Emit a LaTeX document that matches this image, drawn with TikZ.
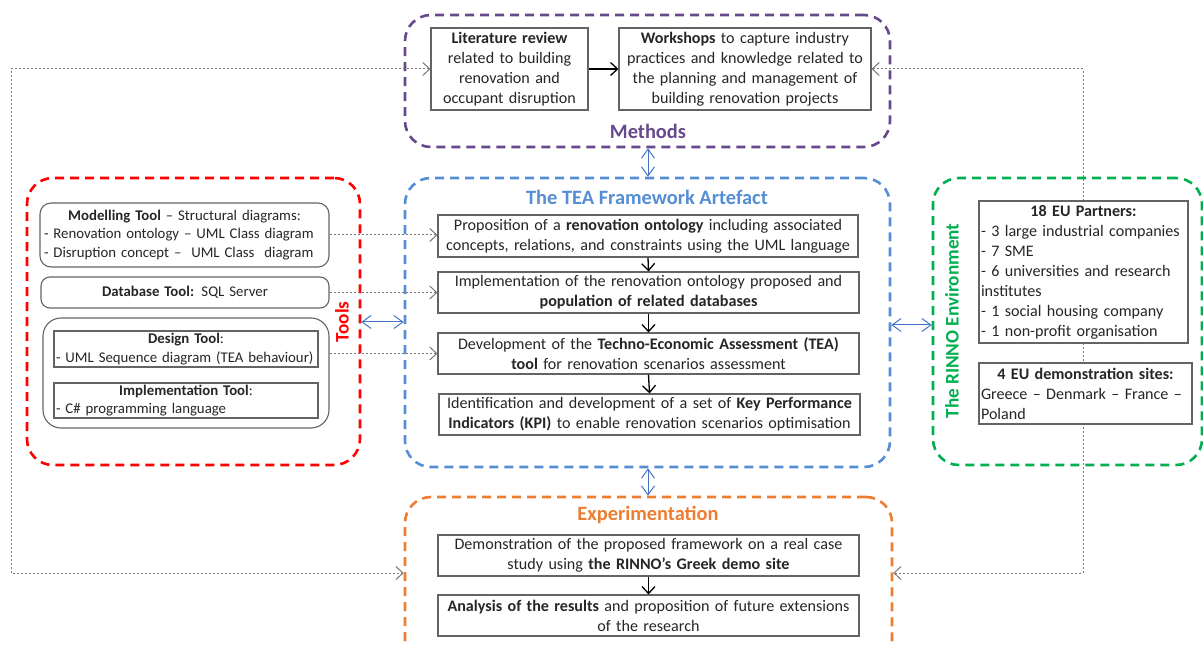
\documentclass[tikz,border=0pt]{standalone}
\usepackage{fontspec}
\setmainfont{Carlito}
\usetikzlibrary{arrows.meta}
\definecolor{mpurple}{RGB}{102,72,140}
\definecolor{mblue}{RGB}{85,142,213}
\definecolor{mred}{RGB}{255,0,0}
\definecolor{mgreen}{RGB}{0,176,80}
\definecolor{morange}{RGB}{237,125,49}
\definecolor{lblue}{RGB}{68,114,196}
\definecolor{tgray}{RGB}{38,38,38}
\definecolor{bgray}{RGB}{100,100,100}
\definecolor{dgray}{RGB}{120,120,120}
\tikzset{
  grp/.style={line width=2.6pt, dash pattern=on 9pt off 6pt, rounded corners=26pt, inner sep=0pt},
  box/.style={draw=bgray, line width=1.1pt, fill=white, inner sep=0pt, align=center, text=tgray,
              font=\fontsize{16.1}{20}\selectfont},
  rbox/.style={box, rounded corners=11pt},
  tbox/.style={box, font=\fontsize{14.8}{18.5}\selectfont},
  flow/.style={black, line width=1.3pt, -{Straight Barb[length=7pt,width=13pt,line width=1.3pt]}},
  link/.style={lblue, line width=1pt, {Straight Barb[length=9pt,width=13pt]}-{Straight Barb[length=9pt,width=13pt]}},
  dots/.style={dgray, line width=1pt, dash pattern=on 2pt off 2pt},
  dtip/.style={-{Straight Barb[length=7pt,width=13pt,line width=1pt]}},
  ttl/.style={font=\fontsize{20.4}{22}\selectfont\bfseries, inner sep=0pt},
  rttl/.style={font=\fontsize{19.2}{22}\selectfont\bfseries, inner sep=0pt, rotate=90},
}
\begin{document}
\begin{tikzpicture}[x=1pt,y=-1pt]
\useasboundingbox (0,0) rectangle (1203,647);
\clip (0,0) rectangle (1203,647);
\fill[white] (0,0) rectangle (1203,647);

% group frames
\node[grp, draw=mpurple, minimum width=485pt, minimum height=132pt] (methods) at (647.5,81) {};
\node[grp, draw=mblue, minimum width=485pt, minimum height=289pt] (tea) at (647.5,322.5) {};
\node[grp, draw=morange, minimum width=487pt, minimum height=170pt] (exp) at (648.5,582) {};
\node[grp, draw=mred, minimum width=333pt, minimum height=287pt] (tools) at (193.5,321.5) {};

% titles
\node[ttl, text=mpurple] (tmeth) at (648,131) {Methods};
\node[ttl, text=mblue] (ttea) at (647,197) {The TEA Framework Artefact};
\node[ttl, text=morange] (texp) at (648,515) {Experimentation};
\node[rttl, text=mred] (ttools) at (342,322) {Tools};
\node[rttl, text=mgreen] (trinno) at (952,321) {The RINNO Environment};

% methods boxes
\node[box, minimum width=157pt, minimum height=82pt, text width=155pt] (lit) at (509.5,69)
  {\textbf{Literature review}\\related to building\\renovation and\\occupant disruption};
\node[box, minimum width=252pt, minimum height=82pt, text width=250pt] (work) at (745,69)
  {\textbf{Workshops} to capture industry\\practices and knowledge related to\\the planning and management of\\building renovation projects};

% TEA boxes
\node[box, minimum width=420pt, minimum height=42pt, text width=418pt] (b1) at (648,236)
  {Proposition of a \textbf{renovation ontology} including associated\\concepts, relations, and constraints using the UML language};
\node[box, minimum width=421pt, minimum height=41pt, text width=419pt] (b2) at (648.5,292.5)
  {Implementation of the renovation ontology proposed and\\\textbf{population of related databases}};
\node[box, minimum width=421pt, minimum height=41pt, text width=419pt] (b3) at (648.5,353.5)
  {Development of the \textbf{Techno-Economic Assessment (TEA)}\\\textbf{tool} for renovation scenarios assessment};
\node[box, minimum width=421pt, minimum height=41pt, text width=419pt] (b4) at (649.5,414.5)
  {Identification and development of a set of \textbf{Key Performance}\\\textbf{Indicators (KPI)} to enable renovation scenarios optimisation};

% experimentation boxes
\node[box, minimum width=421pt, minimum height=41pt, text width=419pt] (e1) at (648.5,555.5)
  {Demonstration of the proposed framework on a real case\\study using \textbf{the RINNO’s Greek demo site}};
\node[box, minimum width=421pt, minimum height=41pt, text width=419pt] (e2) at (648.5,615.5)
  {\textbf{Analysis of the results} and proposition of future extensions\\of the research};

% tools boxes
\node[rbox, tbox, rounded corners=11pt, minimum width=289pt, minimum height=64pt, text width=281pt, align=left] (mod) at (184.5,235)
  {\makebox[\linewidth]{\textbf{Modelling Tool} – Structural diagrams:}\\- Renovation ontology – UML Class diagram\\- Disruption concept –\ \ UML Class\ \ diagram};
\node[rbox, tbox, rounded corners=9pt, minimum width=288pt, minimum height=31pt, text width=282pt] (db) at (185,292.5)
  {\textbf{Database Tool:} SQL Server};
\node[rbox, tbox, rounded corners=18pt, minimum width=286pt, minimum height=110pt] (outer) at (186,373) {};
\node[tbox, minimum width=264pt, minimum height=36pt, text width=260pt, align=left] (design) at (186,349)
  {\makebox[\linewidth]{\textbf{Design Tool}:}\\- UML Sequence diagram (TEA behaviour)};
\node[tbox, minimum width=264pt, minimum height=35pt, text width=260pt, align=left] (impl) at (186,400.5)
  {\makebox[\linewidth]{\textbf{Implementation Tool}:}\\- C\# programming language};

% dotted loops (drawn before RINNO boxes)
\coordinate (L1) at (11,69);
\coordinate (L2) at (11,573);
\coordinate (R1) at (1083,69);
\coordinate (R2) at (1083,573);
\draw[dots, {Straight Barb[length=7pt,width=13pt,line width=1pt]}-{Straight Barb[length=7pt,width=13pt,line width=1pt]}]
  (lit.west) -- (L1) -- (L2) -- (L2 -| exp.west);
\draw[dots, {Straight Barb[length=7pt,width=13pt,line width=1pt]}-{Straight Barb[length=7pt,width=13pt,line width=1pt]}]
  (work.east) -- (R1) -- (R2) -- (R2 -| exp.east);

% RINNO group
\node[grp, draw=mgreen, minimum width=269pt, minimum height=287pt] (rinno) at (1067.5,321.5) {};
\node[box, minimum width=209pt, minimum height=142pt, text width=205pt, align=left] (partners) at (1083.5,272)
  {\makebox[\linewidth]{\textbf{18 EU Partners:}}\\- 3 large industrial companies\\- 7 SME\\- 6 universities and research\\institutes\\- 1 social housing company\\- 1 non-profit organisation};
\node[box, minimum width=213pt, minimum height=61pt, text width=209pt, align=left] (demo) at (1085.5,393.5)
  {\makebox[\linewidth]{\textbf{4 EU demonstration sites:}}\\Greece – Denmark – France –\\Poland};

% flow arrows
\draw[flow] (lit.east) -- (work.west);
\draw[flow] (b1.south) -- (b2.north);
\draw[flow] (b2.south) -- (b3.north);
\draw[flow] (b3.south) -- (b4.north);
\draw[flow] (e1.south) -- (e2.north);

% tool links
\draw[dots, dtip] (mod.east) -- (mod.east -| b1.west);
\draw[dots, dtip] (db.east) -- (db.east -| b2.west);
\draw[dots, dtip] (outer.east |- b3.west) -- (b3.west);

% double arrows between groups
\draw[link] (methods.south -| 648,0) -- (tea.north -| 648,0);
\draw[link] (tea.south -| 648,0) -- (exp.north -| 648,0);
\draw[link] (tools.east |- 0,322) -- (tea.west |- 0,322);
\draw[link] (tea.east |- 0,325) -- (rinno.west |- 0,325);
\end{tikzpicture}
\end{document}
